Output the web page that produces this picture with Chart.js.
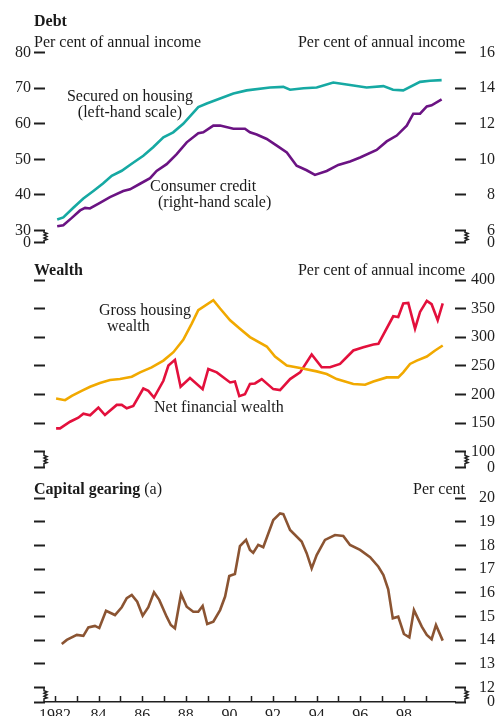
<!DOCTYPE html>
<html>
<head>
<meta charset="utf-8">
<script src="https://cdn.jsdelivr.net/npm/chart.js@4"></script>
<style>
  html, body { margin: 0; padding: 0; background: #fff; overflow: hidden; width: 499px; height: 716px; }
  canvas { position: absolute; left: 0; }
  .t { position: absolute; font-family: "Liberation Serif", "Times New Roman", serif; font-size: 16px; line-height: 1; color: #1a1a1a; white-space: nowrap; z-index: 2; }
  .b { font-weight: bold; }
</style>
</head>
<body>
<canvas id="debt" width="499" height="255" style="top:0px"></canvas>
<canvas id="wealth" width="499" height="230" style="top:250px"></canvas>
<canvas id="gearing" width="499" height="261" style="top:475px"></canvas>

<div class="t b" style="left:34px;top:13px">Debt</div>
<div class="t" style="left:34px;top:34px">Per cent of annual income</div>
<div class="t" style="right:34px;top:34px">Per cent of annual income</div>
<div class="t" style="left:60px;width:140px;text-align:center;top:88px">Secured on housing</div>
<div class="t" style="left:60px;width:140px;text-align:center;top:104px">(left-hand scale)</div>
<div class="t" style="left:150px;top:178px">Consumer credit</div>
<div class="t" style="left:158px;top:194px">(right-hand scale)</div>

<div class="t b" style="left:34px;top:262px">Wealth</div>
<div class="t" style="right:34px;top:262px">Per cent of annual income</div>
<div class="t" style="left:99px;top:302px">Gross housing</div>
<div class="t" style="left:107px;top:318px">wealth</div>
<div class="t" style="left:154px;top:399px">Net financial wealth</div>

<div class="t" style="left:34px;top:481px"><span class="b">Capital gearing</span> (a)</div>
<div class="t" style="right:34px;top:481px">Per cent</div>

<script>
// Debt, per cent of annual income
let housingYears = [1982.1, 1982.38, 1982.84, 1983.3, 1983.76, 1984.2, 1984.6, 1985.06, 1985.5, 1986.05, 1986.5, 1986.97, 1987.42, 1987.88, 1988.57, 1988.96, 1989.57, 1990.18, 1990.79, 1991.86, 1992.47, 1992.78, 1993.4, 1994.0, 1994.76, 1995.53, 1996.29, 1997.06, 1997.5, 1997.97, 1998.74, 1999.2, 1999.73]
let housing = [33.1, 33.7, 36.4, 39.0, 41.1, 43.2, 45.4, 46.8, 48.7, 51.0, 53.4, 56.2, 57.6, 60.0, 64.7, 65.7, 67.1, 68.5, 69.4, 70.2, 70.4, 69.6, 70.0, 70.2, 71.6, 70.9, 70.2, 70.6, 69.6, 69.4, 71.8, 72.1, 72.3]

let creditYears = [1982.1, 1982.38, 1982.77, 1983.15, 1983.38, 1983.6, 1984.06, 1984.52, 1985.13, 1985.44, 1985.9, 1986.36, 1986.66, 1987.12, 1987.58, 1988.04, 1988.57, 1988.8, 1989.26, 1989.57, 1990.18, 1990.71, 1990.94, 1991.25, 1991.71, 1992.17, 1992.63, 1993.08, 1993.54, 1993.92, 1994.46, 1994.99, 1995.53, 1995.99, 1996.75, 1997.21, 1997.67, 1998.13, 1998.43, 1998.74, 1999.05, 1999.27, 1999.73]
let credit = [6.24, 6.3, 6.71, 7.13, 7.27, 7.24, 7.56, 7.88, 8.22, 8.32, 8.63, 8.94, 9.35, 9.73, 10.3, 10.96, 11.47, 11.52, 11.9, 11.9, 11.72, 11.72, 11.52, 11.4, 11.15, 10.77, 10.39, 9.64, 9.39, 9.13, 9.35, 9.69, 9.88, 10.11, 10.53, 11.01, 11.34, 11.9, 12.57, 12.57, 12.98, 13.04, 13.38]

// Wealth, per cent of annual income
let grossYears = [1982.05, 1982.46, 1982.77, 1983.22, 1983.61, 1984.06, 1984.52, 1984.98, 1985.52, 1985.9, 1986.43, 1986.97, 1987.43, 1987.88, 1988.27, 1988.57, 1989.26, 1989.57, 1990.03, 1990.48, 1990.94, 1991.71, 1992.09, 1992.63, 1993.24, 1994.0, 1994.46, 1994.92, 1995.68, 1996.22, 1996.6, 1997.21, 1997.74, 1997.97, 1998.28, 1998.59, 1999.05, 1999.43, 1999.78]
let gross = [192.8, 190, 197.5, 206.3, 213.4, 219.9, 225.2, 226.9, 231, 238.6, 247.4, 259.2, 273.8, 295.6, 323.8, 347.2, 364.8, 350.2, 329.6, 315, 300.2, 283.8, 266.2, 250.4, 246.3, 240.3, 235.7, 226.9, 218.2, 216.9, 222.7, 229.8, 229.8, 238.6, 253.3, 259.2, 266.2, 276.8, 285.6]

let netYears = [1982.05, 1982.23, 1982.69, 1983.07, 1983.3, 1983.61, 1983.99, 1984.29, 1984.83, 1985.06, 1985.29, 1985.59, 1986.05, 1986.28, 1986.54, 1986.97, 1987.2, 1987.5, 1987.76, 1988.19, 1988.77, 1989.03, 1989.42, 1990.03, 1990.25, 1990.45, 1990.71, 1990.94, 1991.17, 1991.48, 1992.01, 1992.32, 1992.78, 1993.24, 1993.77, 1994.23, 1994.61, 1995.07, 1995.68, 1996.14, 1996.6, 1996.83, 1997.51, 1997.74, 1997.97, 1998.2, 1998.51, 1998.74, 1999.05, 1999.27, 1999.55, 1999.78]
let net = [140.7, 140.7, 152.3, 159.3, 166.4, 163.5, 176.9, 164, 181.7, 181.7, 175.9, 179.9, 210.4, 206.3, 194.6, 223.9, 250.4, 260.4, 213.4, 228.7, 209.3, 244.5, 238.6, 221, 222.7, 197, 200.4, 218.2, 219.2, 226.9, 209.3, 207.6, 226.9, 238.6, 269.7, 247.4, 247.4, 253.3, 276.8, 282.6, 287.3, 288.6, 336.6, 335.4, 359, 360, 315, 344.2, 363.6, 357.7, 329.6, 359]

// Capital gearing, per cent
let gearYears = [1982.31, 1982.54, 1983.0, 1983.3, 1983.53, 1983.83, 1984.03, 1984.34, 1984.75, 1985.06, 1985.29, 1985.52, 1985.77, 1986.02, 1986.28, 1986.54, 1986.78, 1987.12, 1987.31, 1987.5, 1987.78, 1988.04, 1988.34, 1988.57, 1988.77, 1988.98, 1989.26, 1989.57, 1989.8, 1989.99, 1990.25, 1990.48, 1990.76, 1990.94, 1991.09, 1991.32, 1991.55, 1992.01, 1992.32, 1992.47, 1992.78, 1993.31, 1993.54, 1993.77, 1994.0, 1994.38, 1994.84, 1995.22, 1995.53, 1995.99, 1996.45, 1996.83, 1997.06, 1997.28, 1997.49, 1997.74, 1998.0, 1998.25, 1998.46, 1998.82, 1999.05, 1999.27, 1999.47, 1999.78]
let gearing = [13.84, 14.01, 14.22, 14.18, 14.54, 14.6, 14.51, 15.24, 15.06, 15.39, 15.77, 15.91, 15.62, 15.03, 15.39, 16.02, 15.7, 14.99, 14.64, 14.5, 15.95, 15.41, 15.2, 15.2, 15.44, 14.68, 14.78, 15.27, 15.84, 16.71, 16.79, 17.97, 18.23, 17.81, 17.69, 18.02, 17.92, 19.07, 19.35, 19.32, 18.65, 18.16, 17.67, 17.03, 17.59, 18.23, 18.44, 18.4, 18.02, 17.81, 17.5, 17.1, 16.75, 16.15, 14.92, 14.99, 14.26, 14.12, 15.27, 14.57, 14.22, 14.04, 14.64, 13.98]

// tick labels
let years = [1982, 1983, 1984, 1985, 1986, 1987, 1988, 1989, 1990, 1991, 1992, 1993, 1994, 1995, 1996, 1997, 1998, 1999]
let debtLeftTicks = [30, 40, 50, 60, 70, 80]
let debtRightTicks = [6, 8, 10, 12, 14, 16]
let wealthTicks = [100, 150, 200, 250, 300, 350, 400]
let gearTicks = [12, 13, 14, 15, 16, 17, 18, 19, 20]

let xMin = 1981.541
let xMax = 2000.343
let ink = '#1f1f1f'

Chart.defaults.font.family = '"Liberation Serif", "Times New Roman", serif'
Chart.defaults.font.size = 16
Chart.defaults.color = ink
Chart.defaults.animation = false

function pts(xs, ys) {
    return xs.map((x, i) => ({ x: x, y: ys[i] }))
}

// y axis with a broken bottom: lowest tick is labelled 0
function yAxis(position, min, max, ticks, labels) {
    return {
        type: 'linear',
        position: position,
        min: min,
        max: max,
        afterBuildTicks: s => { s.ticks = [min].concat(ticks).map(v => ({ value: v })) },
        afterFit: s => { s.width = position === 'left' ? 45 : 40 },
        ticks: {
            padding: 3,
            crossAlign: position === 'left' ? 'near' : 'far',
            callback: v => labels ? (v === min ? '0' : String(v)) : ''
        },
        grid: { drawOnChartArea: false, tickLength: 11, tickWidth: 2, tickColor: ink },
        border: { display: false }
    }
}

function xAxis(show) {
    return {
        type: 'linear',
        min: xMin,
        max: xMax,
        display: show,
        afterBuildTicks: s => { s.ticks = years.map(v => ({ value: v })) },
        afterFit: s => { s.height = show ? 20 : 0 },
        ticks: {
            autoSkip: false,
            maxRotation: 0,
            padding: 4,
            callback: v => v % 2 ? '' : (v === 1982 ? '1982' : String(v).slice(2))
        },
        grid: { drawOnChartArea: false, drawTicks: false },
        border: { display: true, color: ink, width: 1.5 }
    }
}

function line(data, color, axis) {
    return {
        data: data,
        yAxisID: axis,
        borderColor: color,
        borderWidth: 2.6,
        pointRadius: 0,
        tension: 0,
        fill: false
    }
}

let breakMarks = {
    id: 'breakMarks',
    afterDraw(chart) {
        let ctx = chart.ctx
        ctx.save()
        ctx.strokeStyle = ink
        ctx.lineWidth = 1.5
        Object.values(chart.scales).forEach(s => {
            if (s.axis !== 'y') return
            let y1 = s.getPixelForValue(s.ticks[1].value)
            let y2 = s.getPixelForValue(s.min)
            let x = s.position === 'left' ? s.right - 1 : s.left + 10
            let m = (y1 + y2) / 2
            ctx.beginPath()
            ctx.moveTo(x, y1)
            ctx.lineTo(x, m - 4)
            ctx.lineTo(x + 3, m - 3)
            ctx.lineTo(x, m - 1.5)
            ctx.lineTo(x + 3, m)
            ctx.lineTo(x, m + 1.5)
            ctx.lineTo(x + 3, m + 3)
            ctx.lineTo(x, m + 4)
            ctx.lineTo(x, y2)
            ctx.stroke()
        })
        ctx.restore()
    }
}

// year ticks point up from the x axis
let yearTicks = {
    id: 'yearTicks',
    afterDraw(chart) {
        let s = chart.scales.x
        let ctx = chart.ctx
        let y = chart.chartArea.bottom
        ctx.save()
        ctx.strokeStyle = ink
        ctx.lineWidth = 1.5
        years.forEach(v => {
            let px = Math.round(s.getPixelForValue(v)) + 0.5
            ctx.beginPath()
            ctx.moveTo(px, y)
            ctx.lineTo(px, y - 6)
            ctx.stroke()
        })
        ctx.restore()
    }
}

new Chart(document.getElementById('debt').getContext('2d'), {
    type: 'line',
    data: {
        datasets: [
            line(pts(housingYears, housing), '#16a9a3', 'yl'),
            line(pts(creditYears, credit), '#6b1383', 'yr')
        ]
    },
    options: {
        responsive: false,
        layout: { padding: { top: 52.7, bottom: 9, left: 0, right: 4 } },
        plugins: { legend: { display: false }, tooltip: { enabled: false } },
        scales: {
            x: xAxis(false),
            yl: yAxis('left', 26.66, 80, debtLeftTicks, true),
            yr: yAxis('right', 5.332, 16, debtRightTicks, true)
        }
    },
    plugins: [breakMarks]
})

new Chart(document.getElementById('wealth').getContext('2d'), {
    type: 'line',
    data: {
        datasets: [
            line(pts(grossYears, gross), '#f1a900', 'yr'),
            line(pts(netYears, net), '#e3103c', 'yr')
        ]
    },
    options: {
        responsive: false,
        layout: { padding: { top: 30, bottom: 9, left: 0, right: 4 } },
        plugins: { legend: { display: false }, tooltip: { enabled: false } },
        scales: {
            x: xAxis(false),
            yl: yAxis('left', 72.5, 400, wealthTicks, false),
            yr: yAxis('right', 72.5, 400, wealthTicks, true)
        }
    },
    plugins: [breakMarks]
})

new Chart(document.getElementById('gearing').getContext('2d'), {
    type: 'line',
    data: {
        datasets: [
            line(pts(gearYears, gearing), '#8b5432', 'yr')
        ]
    },
    options: {
        responsive: false,
        layout: { padding: { top: 23, bottom: 14, left: 0, right: 4 } },
        plugins: { legend: { display: false }, tooltip: { enabled: false } },
        scales: {
            x: xAxis(true),
            yl: yAxis('left', 11.39, 20, gearTicks, false),
            yr: yAxis('right', 11.39, 20, gearTicks, true)
        }
    },
    plugins: [breakMarks, yearTicks]
})
</script>
</body>
</html>
